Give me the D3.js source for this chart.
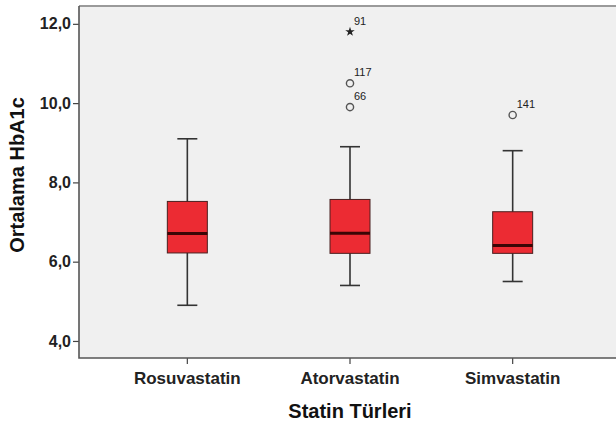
<!DOCTYPE html>
<html>
<head>
<meta charset="utf-8">
<script src="https://cdn.jsdelivr.net/npm/d3@7"></script>
<style>
  body { margin: 0; background: #fff; }
  svg { display: block; font-family: "Liberation Sans", Arial, sans-serif; }
</style>
</head>
<body>
<div id="chart"></div>
<script>
var categories = ["Rosuvastatin", "Atorvastatin", "Simvastatin"];
var lowWhisker = [4.9, 5.4, 5.5];
var q1 = [6.22, 6.21, 6.21];
var median = [6.71, 6.72, 6.41];
var q3 = [7.52, 7.57, 7.26];
var highWhisker = [9.1, 8.9, 8.8];
// outliers: [category index, value, case label, type]
var outliers = [
  [1, 11.8, "91", "extreme"],
  [1, 10.5, "117", "mild"],
  [1, 9.9, "66", "mild"],
  [2, 9.7, "141", "mild"]
];
var yTicks = [4, 6, 8, 10, 12];

var width = 616, height = 424;
var plot = { left: 79, right: 616, top: 6, bottom: 358 };

var svg = d3.select("#chart").append("svg")
    .attr("width", width)
    .attr("height", height);

var x = d3.scaleBand()
    .domain(categories)
    .range([106, 594]);

var y = d3.scaleLinear()
    .domain([3.57, 12.45])
    .range([plot.bottom, plot.top]);

// plot background
svg.append("rect")
    .attr("x", plot.left)
    .attr("y", plot.top)
    .attr("width", plot.right - plot.left)
    .attr("height", plot.bottom - plot.top)
    .attr("fill", "#f0f0f0");

// top border
svg.append("line")
    .attr("x1", plot.left).attr("x2", plot.right)
    .attr("y1", plot.top).attr("y2", plot.top)
    .attr("stroke", "#9a9a9a").attr("stroke-width", 2);

var data = categories.map(function(c, i) {
  return { name: c, lo: lowWhisker[i], q1: q1[i], med: median[i], q3: q3[i], hi: highWhisker[i] };
});

var boxW = 40, capW = 20;
var g = svg.selectAll(".box").data(data).enter().append("g").attr("class", "box");

// whiskers
g.append("line")
    .attr("x1", function(d) { return x(d.name) + x.bandwidth() / 2; })
    .attr("x2", function(d) { return x(d.name) + x.bandwidth() / 2; })
    .attr("y1", function(d) { return y(d.lo); })
    .attr("y2", function(d) { return y(d.hi); })
    .attr("stroke", "#333").attr("stroke-width", 1.6);
["lo", "hi"].forEach(function(k) {
  g.append("line")
      .attr("x1", function(d) { return x(d.name) + x.bandwidth() / 2 - capW / 2; })
      .attr("x2", function(d) { return x(d.name) + x.bandwidth() / 2 + capW / 2; })
      .attr("y1", function(d) { return y(d[k]); })
      .attr("y2", function(d) { return y(d[k]); })
      .attr("stroke", "#333").attr("stroke-width", 1.6);
});

g.append("rect")
    .attr("x", function(d) { return x(d.name) + x.bandwidth() / 2 - boxW / 2; })
    .attr("width", boxW)
    .attr("y", function(d) { return y(d.q3); })
    .attr("height", function(d) { return y(d.q1) - y(d.q3); })
    .attr("fill", "#ec2b33")
    .attr("stroke", "#4a2020").attr("stroke-width", 1);

g.append("line")
    .attr("x1", function(d) { return x(d.name) + x.bandwidth() / 2 - boxW / 2; })
    .attr("x2", function(d) { return x(d.name) + x.bandwidth() / 2 + boxW / 2; })
    .attr("y1", function(d) { return y(d.med); })
    .attr("y2", function(d) { return y(d.med); })
    .attr("stroke", "#3a0606").attr("stroke-width", 3);

// outliers
var star = d3.symbol().type(d3.symbolStar).size(28);
outliers.forEach(function(o) {
  var cx = x(categories[o[0]]) + x.bandwidth() / 2, cy = y(o[1]);
  if (o[3] === "extreme") {
    svg.append("path").attr("d", star)
        .attr("transform", "translate(" + cx + "," + cy + ")")
        .attr("fill", "#222");
  } else {
    svg.append("circle")
        .attr("cx", cx).attr("cy", cy).attr("r", 3.6)
        .attr("fill", "none").attr("stroke", "#555").attr("stroke-width", 1.4);
  }
  svg.append("text")
      .attr("x", cx + 4).attr("y", cy - 7)
      .attr("font-size", 11).attr("fill", "#222")
      .text(o[2]);
});

// y axis
var yAxis = svg.append("g")
    .attr("transform", "translate(" + plot.left + ",0)")
    .call(d3.axisLeft(y).tickValues(yTicks).tickSize(6).tickPadding(2)
      .tickFormat(function(d) { return d3.format(".1f")(d).replace(".", ","); }));
yAxis.select(".domain").remove();
yAxis.selectAll("line").attr("stroke", "#444").attr("stroke-width", 1.2);
yAxis.selectAll("text").attr("font-size", 16).attr("font-weight", "bold")
    .attr("fill", "#222").attr("font-family", "Liberation Sans, Arial, sans-serif");

// x axis
var xAxis = svg.append("g")
    .attr("transform", "translate(0," + plot.bottom + ")")
    .call(d3.axisBottom(x).tickSize(6).tickPadding(8));
xAxis.select(".domain").remove();
xAxis.selectAll("line").attr("stroke", "#444").attr("stroke-width", 1.2);
xAxis.selectAll("text").attr("font-size", 17).attr("font-weight", "bold")
    .attr("fill", "#222").attr("font-family", "Liberation Sans, Arial, sans-serif");

// left and bottom axis lines
svg.append("path")
    .attr("d", "M" + plot.left + "," + plot.top + "V" + plot.bottom + "H" + plot.right)
    .attr("fill", "none").attr("stroke", "#555").attr("stroke-width", 1.6);

// axis titles
svg.append("text")
    .attr("x", 350).attr("y", 418)
    .attr("text-anchor", "middle")
    .attr("font-size", 20).attr("font-weight", "bold").attr("fill", "#111")
    .text("Statin Türleri");

svg.append("text")
    .attr("transform", "translate(24,175) rotate(-90)")
    .attr("text-anchor", "middle")
    .attr("font-size", 20).attr("font-weight", "bold").attr("fill", "#111")
    .text("Ortalama HbA1c");
</script>
</body>
</html>
